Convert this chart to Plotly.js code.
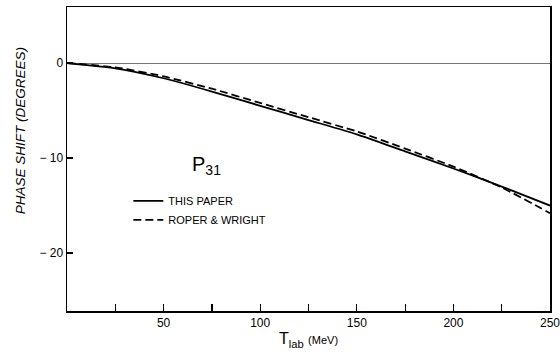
<!DOCTYPE html>
<html>
<head>
<meta charset="utf-8">
<script src="https://cdn.plot.ly/plotly-3.0.1.min.js"></script>
<style>html,body{margin:0;padding:0;background:#fff;}#chart{width:560px;height:360px;}</style>
</head>
<body>
<div id="chart"></div>
<script>
// Lab kinetic energy (MeV)
const energy = [0, 25, 50, 75, 100, 125, 150, 175, 200, 225, 250];
// P31 phase shift (degrees)
const thisPaper   = [0, -0.55, -1.6, -3.0, -4.5, -6.0, -7.5, -9.3, -11.1, -13.0, -15.0];
const roperWright = [0, -0.45, -1.4, -2.7, -4.2, -5.7, -7.2, -9.0, -10.9, -13.1, -15.8];
const seriesNames = ["THIS PAPER", "ROPER & WRIGHT"];
const xTickVals = [50, 100, 150, 200, 250];
const xTickText = ["50", "100", "150", "200", "250"];
const yTickVals = [0, -10, -20];
const yTickText = ["0", "− 10", "− 20"];

const FONT = "Liberation Sans, Arial, sans-serif";

const traces = [
  {x: energy, y: thisPaper, name: seriesNames[0], mode: "lines", type: "scatter",
   line: {color: "#000", width: 1.8, shape: "spline", smoothing: 0.6}},
  {x: energy, y: roperWright, name: seriesNames[1], mode: "lines", type: "scatter",
   line: {color: "#000", width: 1.8, dash: "8px,4px", shape: "spline", smoothing: 0.6}}
];

const layout = {
  width: 560, height: 360,
  margin: {l: 67, r: 10, t: 7, b: 49},
  paper_bgcolor: "#fff", plot_bgcolor: "#fff",
  font: {family: FONT, color: "#000", size: 12},
  showlegend: true,
  legend: {x: 0.127, y: 0.41, xanchor: "left", yanchor: "top",
           bgcolor: "rgba(0,0,0,0)", font: {size: 11, family: FONT}, tracegroupgap: 0},
  xaxis: {
    range: [0, 250], tickmode: "array", tickvals: xTickVals, ticktext: xTickText,
    ticks: "inside", ticklen: 7, tickwidth: 1.2, tickcolor: "#000",
    minor: {dtick: 25, tick0: 0, ticks: "inside", ticklen: 7, tickwidth: 1.2, tickcolor: "#000", showgrid: false},
    ticklabeloverflow: "allow",
    showline: true, linecolor: "#000", linewidth: 1.5, mirror: true,
    showgrid: false, zeroline: false,
    tickfont: {size: 12, family: FONT},
    title: {text: "T<sub>lab</sub> <span style='font-size:11px'>(MeV)</span>",
            font: {size: 16, family: FONT}, standoff: 4}
  },
  yaxis: {
    range: [-26.1, 5.9], tickmode: "array", tickvals: yTickVals, ticktext: yTickText,
    ticks: "inside", ticklen: 6, tickwidth: 1.2, tickcolor: "#000",
    showline: true, linecolor: "#000", linewidth: 1.5, mirror: true,
    showgrid: false, zeroline: true, zerolinecolor: "#777", zerolinewidth: 1,
    tickfont: {size: 12, family: FONT}
  },
  annotations: [
    {text: "PHASE SHIFT (DEGREES)", xref: "paper", yref: "paper", x: -0.097, y: 0.592,
     textangle: -90, showarrow: false, xanchor: "center", yanchor: "middle",
     font: {size: 13.5, family: FONT, style: "italic"}},
    {text: "P<sub>31</sub>", xref: "x", yref: "y", x: 72, y: -10.8,
     showarrow: false, font: {size: 20, family: FONT}}
  ]
};

Plotly.newPlot("chart", traces, layout, {staticPlot: true, displayModeBar: false});
</script>
</body>
</html>
